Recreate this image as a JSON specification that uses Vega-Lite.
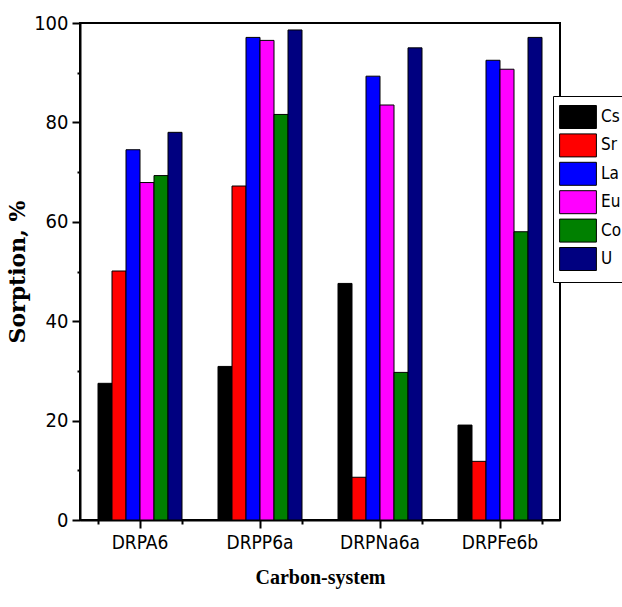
{
  "$schema": "https://vega.github.io/schema/vega-lite/v6.json",
  "width": 480,
  "height": 497,
  "autosize": {"type": "none"},
  "padding": {"left": 80, "top": 23, "right": 62, "bottom": 87},
  "background": "white",
  "data": {"values": [
    {"system": "DRPA6", "ion": "Cs", "sorption": 27.5},
    {"system": "DRPA6", "ion": "Sr", "sorption": 50.1},
    {"system": "DRPA6", "ion": "La", "sorption": 74.5},
    {"system": "DRPA6", "ion": "Eu", "sorption": 67.9},
    {"system": "DRPA6", "ion": "Co", "sorption": 69.3},
    {"system": "DRPA6", "ion": "U", "sorption": 78.0},
    {"system": "DRPP6a", "ion": "Cs", "sorption": 30.9},
    {"system": "DRPP6a", "ion": "Sr", "sorption": 67.2},
    {"system": "DRPP6a", "ion": "La", "sorption": 97.1},
    {"system": "DRPP6a", "ion": "Eu", "sorption": 96.5},
    {"system": "DRPP6a", "ion": "Co", "sorption": 81.6},
    {"system": "DRPP6a", "ion": "U", "sorption": 98.6},
    {"system": "DRPNa6a", "ion": "Cs", "sorption": 47.6},
    {"system": "DRPNa6a", "ion": "Sr", "sorption": 8.6},
    {"system": "DRPNa6a", "ion": "La", "sorption": 89.3},
    {"system": "DRPNa6a", "ion": "Eu", "sorption": 83.5},
    {"system": "DRPNa6a", "ion": "Co", "sorption": 29.7},
    {"system": "DRPNa6a", "ion": "U", "sorption": 95.0},
    {"system": "DRPFe6b", "ion": "Cs", "sorption": 19.1},
    {"system": "DRPFe6b", "ion": "Sr", "sorption": 11.8},
    {"system": "DRPFe6b", "ion": "La", "sorption": 92.5},
    {"system": "DRPFe6b", "ion": "Eu", "sorption": 90.7},
    {"system": "DRPFe6b", "ion": "Co", "sorption": 58.0},
    {"system": "DRPFe6b", "ion": "U", "sorption": 97.1}
  ]},
  "config": {
    "view": {"stroke": "black", "strokeWidth": 2},
    "axis": {
      "grid": false,
      "domainColor": "black",
      "domainWidth": 2,
      "tickColor": "black",
      "tickWidth": 2,
      "labelColor": "black",
      "titleColor": "black",
      "labelFont": "DejaVu Sans Condensed, Liberation Sans",
      "labelFontSize": 19,
      "titleFont": "Liberation Serif",
      "titleFontWeight": "bold",
      "titleFontSize": 20
    },
    "legend": {
      "labelFont": "DejaVu Sans Condensed, Liberation Sans",
      "labelFontSize": 17,
      "labelColor": "black"
    }
  },
  "layer": [
    {
      "mark": {"type": "bar", "stroke": "black", "strokeWidth": 1},
      "encoding": {
        "x": {
          "field": "system",
          "type": "nominal",
          "sort": ["DRPA6", "DRPP6a", "DRPNa6a", "DRPFe6b"],
          "scale": {"paddingInner": 0.3, "paddingOuter": 0.15},
          "axis": {
            "orient": "bottom",
            "title": "Carbon-system",
            "labelAngle": 0,
            "tickSize": 8,
            "labelPadding": 5,
            "titlePadding": 15,
            "domain": false
          }
        },
        "xOffset": {"field": "ion", "type": "nominal", "sort": ["Cs", "Sr", "La", "Eu", "Co", "U"]},
        "y": {
          "field": "sorption",
          "type": "quantitative",
          "scale": {"domain": [0, 100], "nice": false},
          "axis": {
            "title": "Sorption, %",
            "titleFont": "DejaVu Serif",
            "titleFontSize": 22,
            "values": [0, 10, 20, 30, 40, 50, 60, 70, 80, 90, 100],
            "labelExpr": "datum.value % 20 === 0 ? datum.label : ''",
            "labelFontSize": 20,
            "tickSize": {"condition": {"test": "datum.value % 20 === 0", "value": 8}, "value": 3},
            "labelPadding": 4,
            "titlePadding": 4,
            "domain": true
          }
        },
        "color": {
          "field": "ion",
          "type": "nominal",
          "scale": {
            "domain": ["Cs", "Sr", "La", "Eu", "Co", "U"],
            "range": ["#000000", "#ff0000", "#0000ff", "#ff00ff", "#008000", "#000080"]
          },
          "legend": {
            "title": null,
            "orient": "none",
            "legendX": 473,
            "legendY": 73,
            "symbolType": "M-1.6,-1H1.6V1H-1.6Z",
            "symbolSize": 529,
            "symbolStrokeColor": "black",
            "symbolStrokeWidth": 1,
            "symbolOpacity": 1,
            "symbolOffset": 4,
            "labelOffset": 11,
            "rowPadding": 0.4,
            "padding": 9,
            "strokeColor": "black",
            "fillColor": "white",
            "cornerRadius": 0
          }
        }
      }
    },
    {
      "mark": {"type": "bar", "opacity": 0},
      "encoding": {
        "x": {
          "field": "system",
          "type": "nominal",
          "sort": ["DRPA6", "DRPP6a", "DRPNa6a", "DRPFe6b"],
          "axis": {
            "orient": "bottom",
            "tickBand": "extent",
            "labels": false,
            "title": null,
            "tickSize": 4,
            "domain": true
          }
        },
        "y": {"field": "sorption", "type": "quantitative"}
      }
    }
  ],
  "resolve": {"axis": {"x": "independent"}}
}
